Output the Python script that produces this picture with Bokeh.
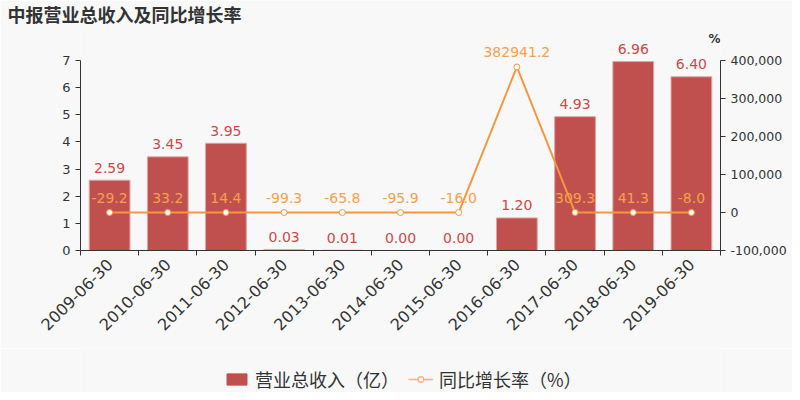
import math
from bokeh.plotting import figure
from bokeh.layouts import column
from bokeh.models import (Range1d, LinearAxis, FixedTicker, NumeralTickFormatter,
                          ColumnDataSource, LabelSet, Label, Legend, LegendItem)
from bokeh.core.properties import value
from bokeh.embed import file_html
from bokeh.resources import INLINE

categories = ["2009-06-30", "2010-06-30", "2011-06-30", "2012-06-30", "2013-06-30",
              "2014-06-30", "2015-06-30", "2016-06-30", "2017-06-30", "2018-06-30",
              "2019-06-30"]
revenue = [2.59, 3.45, 3.95, 0.03, 0.01, 0.00, 0.00, 1.20, 4.93, 6.96, 6.40]
growth = [-29.2, 33.2, 14.4, -99.3, -65.8, -95.9, -16.0, 382941.2, 309.3, 41.3, -8.0]
left_ticks = [0, 1, 2, 3, 4, 5, 6, 7]
right_ticks = [-100000, 0, 100000, 200000, 300000, 400000]
title_text = "中报营业总收入及同比增长率"
legend_labels = ["营业总收入（亿）", "同比增长率（%）"]

BG = "#f8f8f8"
BAR = "#c0504d"
LINE = "#f7963c"
BAR_LBL = "#cc4a4a"
LINE_LBL = "#f7a04a"
TXT = "#333333"
NUMF = "DejaVu Sans"
CJK = "Noto Sans CJK SC"

# geometry (px)
W = 792
FL, FR, FT, FB = 80, 720, 30, 250
AXIS_TOP = 60          # pixel of the top tick (7 / 400,000)
H_MAIN, H_LEG = 348, 44

n = len(categories)
x = [i + 0.5 for i in range(n)]
src = ColumnDataSource(dict(
    x=x, rev=revenue, gr=growth,
    rev_lbl=[f"{v:.2f}" for v in revenue],
    gr_lbl=[f"{v:.1f}" for v in growth],
))

ratio = (FB - FT) / (FB - AXIS_TOP)
l0, l1 = left_ticks[0], left_ticks[-1]
r0, r1 = right_ticks[0], right_ticks[-1]

p = figure(width=W, height=H_MAIN, output_backend="svg", toolbar_location=None, title=None,
           x_range=Range1d(0, n), y_range=Range1d(l0, l0 + (l1 - l0) * ratio),
           x_axis_type=None, y_axis_type=None,
           min_border_left=FL, min_border_right=W - FR, min_border_top=FT,
           min_border_bottom=H_MAIN - FB,
           background_fill_color=BG, border_fill_color=BG, outline_line_color=None)
p.grid.visible = False
p.extra_y_ranges = {"right": Range1d(r0, r0 + (r1 - r0) * ratio)}

def style_axis(ax, size):
    ax.axis_line_color = TXT
    ax.major_tick_line_color = TXT
    ax.minor_tick_line_color = TXT
    ax.major_tick_out = 5
    ax.major_tick_in = 0
    ax.minor_tick_out = 0
    ax.minor_tick_in = 0
    ax.major_label_text_color = TXT
    ax.major_label_text_font = NUMF
    ax.major_label_text_font_size = size

yl = LinearAxis(ticker=FixedTicker(ticks=left_ticks), bounds=(l0, l1))
style_axis(yl, "13px")
p.add_layout(yl, "left")

yr = LinearAxis(y_range_name="right", ticker=FixedTicker(ticks=right_ticks),
                formatter=NumeralTickFormatter(format="0,0"), bounds=(r0, r1))
style_axis(yr, "12.5px")
p.add_layout(yr, "right")

xa = LinearAxis(ticker=FixedTicker(ticks=x, minor_ticks=list(range(n + 1))),
                major_label_overrides={xi: c for xi, c in zip(x, categories)},
                major_label_orientation=math.pi / 4)
style_axis(xa, "16px")
xa.major_tick_out = 0
xa.minor_tick_out = 5
xa.major_label_standoff = 6
p.add_layout(xa, "below")

bars = p.vbar(x="x", top="rev", width=0.7, source=src, fill_color=BAR,
              line_color="#dca5a4", line_width=1)
line = p.line(x="x", y="gr", source=src, y_range_name="right", line_color=LINE, line_width=2)
pts = p.scatter(x="x", y="gr", source=src, y_range_name="right", size=6,
                fill_color="white", line_color=LINE, line_width=1)

p.add_layout(LabelSet(x="x", y="rev", text="rev_lbl", source=src, text_align="center",
                      text_baseline="middle", y_offset=12.5, text_color=BAR_LBL,
                      text_font=value(NUMF), text_font_size="14px"))
p.add_layout(LabelSet(x="x", y="gr", text="gr_lbl", source=src, y_range_name="right",
                      text_align="center", text_baseline="middle", y_offset=14.5,
                      text_color=LINE_LBL, text_font=value(NUMF), text_font_size="14px"))

# title in the panel above the frame (screen units relative to that panel box)
p.add_layout(Label(x=7 - FL, y=FT - 13, x_units="screen", y_units="screen", text=title_text,
                   text_align="left", text_baseline="middle", text_font=CJK,
                   text_font_size="18px", text_font_style="bold", text_color=TXT), "above")
# unit label for the right axis (inside the frame, at its right edge)
p.add_layout(Label(x=FR - FL, y=FB - 38, x_units="screen", y_units="screen", text="%",
                   text_align="right", text_baseline="middle", text_font=NUMF,
                   text_font_size="12px", text_font_style="bold", text_color=TXT))

# legend strip below the chart (its frame is aligned with the chart's frame)
lf = figure(width=W, height=H_LEG, output_backend="svg", toolbar_location=None, title=None,
            x_range=Range1d(0, 1), y_range=Range1d(0, 1), x_axis_type=None, y_axis_type=None,
            min_border=0, background_fill_color=BG, border_fill_color=BG,
            outline_line_color=None)
lf.grid.visible = False
nan = [float("nan")]
lb = lf.vbar(x=nan, top=nan, width=0.5, fill_color=BAR, line_color=BAR, border_radius=3)
ll = lf.line(x=nan, y=nan, line_color="#f9b47a", line_width=1.5)
lp = lf.scatter(x=nan, y=nan, size=11, fill_color="white", line_color="#f9b47a",
                line_width=1.5)
legend = Legend(items=[LegendItem(label=legend_labels[0], renderers=[lb]),
                       LegendItem(label=legend_labels[1], renderers=[ll, lp])],
                orientation="horizontal", location=(224 - FL, 0),
                padding=0, margin=0, spacing=9, label_standoff=6,
                glyph_width=25, glyph_height=14, label_height=16,
                border_line_alpha=0, background_fill_alpha=0,
                label_text_font=CJK, label_text_font_size="18px", label_text_color=TXT,
                label_text_line_height=1.0)
lf.add_layout(legend, "center")

layout = column(p, lf, spacing=0)
open("out.html", "w").write(file_html(layout, INLINE))
